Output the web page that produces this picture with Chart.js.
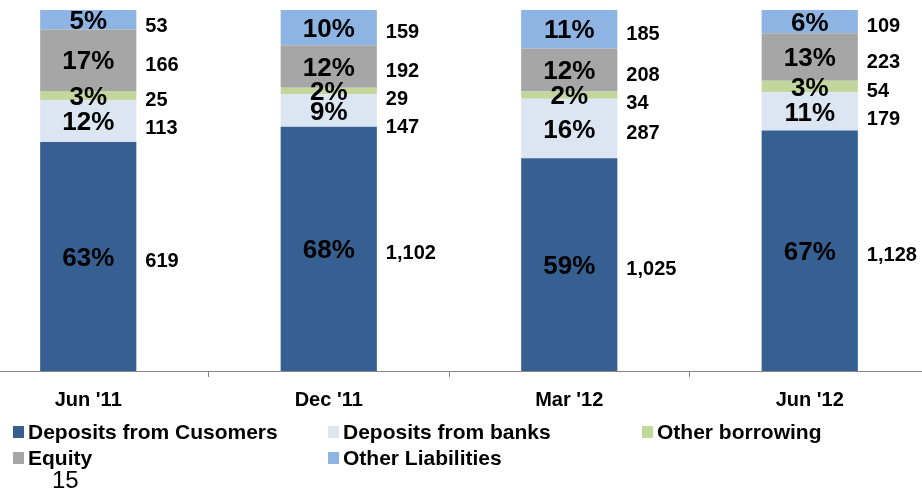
<!DOCTYPE html>
<html lang="en">
<head>
<meta charset="UTF-8">
<title>Liabilities structure</title>
<script src="https://cdn.jsdelivr.net/npm/chart.js"></script>
<style>
  body { margin: 0; width: 922px; height: 492px; overflow: hidden; background: #fff; position: relative;
         font-family: "Liberation Sans", Arial, sans-serif; color: #000; }
  #wrap { position: absolute; left: -32px; top: 0; width: 962px; height: 421px; }
  #legend { position: absolute; left: 13px; top: 421px; display: grid; grid-template-columns: 315px 314px auto;
            row-gap: 4px; font-weight: bold; font-size: 21px; }
  .item { display: flex; align-items: center; height: 22px; white-space: nowrap; }
  .box { width: 11px; height: 12px; margin-right: 4px; flex: none; }
  #page { position: absolute; left: 52px; top: 466px; font-size: 24px; }
</style>
</head>
<body>
<div id="wrap"><canvas id="chart"></canvas></div>
<div id="legend"></div>
<div id="page">15</div>

<script>
const FONT = '"Liberation Sans", Arial, sans-serif';

const categories = ["Jun '11", "Dec '11", "Mar '12", "Jun '12"];

// absolute amounts (shown right of each bar)
const depositsCustomers = [619, 1102, 1025, 1128];
const depositsBanks     = [113, 147, 287, 179];
const otherBorrowing    = [25, 29, 34, 54];
const equity            = [166, 192, 208, 223];
const otherLiabilities  = [53, 159, 185, 109];

// share labels as printed inside the bars
const pctCustomers = [63, 68, 59, 67];
const pctBanks     = [12, 9, 16, 11];
const pctBorrowing = [3, 2, 2, 3];
const pctEquity    = [17, 12, 12, 13];
const pctOther     = [5, 10, 11, 6];

const series = [
  { label: 'Deposits from Cusomers', values: depositsCustomers, pct: pctCustomers, color: '#376092' },
  { label: 'Deposits from banks',    values: depositsBanks,     pct: pctBanks,     color: '#DCE6F2' },
  { label: 'Other borrowing',        values: otherBorrowing,    pct: pctBorrowing, color: '#C3D69B' },
  { label: 'Equity',                 values: equity,            pct: pctEquity,    color: '#A6A6A6' },
  { label: 'Other Liabilities',      values: otherLiabilities,  pct: pctOther,     color: '#8EB4E3' }
];

// 100% stacked: each segment is its share of the column total
const totals = categories.map((c, i) => series.reduce((s, d) => s + d.values[i], 0));

const labelPlugin = {
  id: 'segLabels',
  afterDatasetsDraw(chart) {
    const ctx = chart.ctx;
    ctx.save();
    ctx.fillStyle = '#000';
    ctx.textBaseline = 'middle';
    categories.forEach((c, i) => {
      let prev = -Infinity;
      for (let k = series.length - 1; k >= 0; k--) {
        const bar = chart.getDatasetMeta(k).data[i];
        const mid = (bar.y + bar.base) / 2;
        ctx.font = 'bold 26px ' + FONT;
        ctx.textAlign = 'center';
        ctx.fillText(series[k].pct[i] + '%', bar.x, mid + 2);

        // keep the amounts from running into each other
        const y = Math.max(mid + 5, prev + 28, 26);
        prev = y;
        ctx.font = 'bold 20px ' + FONT;
        ctx.textAlign = 'left';
        ctx.fillText(series[k].values[i].toLocaleString('en-US'), bar.x + bar.width / 2 + 9, y);
      }
    });
    ctx.restore();
  }
};

const chart = new Chart(document.getElementById('chart'), {
  type: 'bar',
  data: {
    labels: categories,
    datasets: series.map(s => ({
      label: s.label,
      data: s.values.map((v, i) => v / totals[i] * 100),
      backgroundColor: s.color,
      borderWidth: 0,
      barPercentage: 0.4,
      categoryPercentage: 1
    }))
  },
  options: {
    responsive: true,
    maintainAspectRatio: false,
    animation: false,
    layout: { padding: { top: 10, left: 0, right: 0, bottom: 0 } },
    plugins: { legend: { display: false }, tooltip: { enabled: false } },
    scales: {
      x: {
        stacked: true,
        grid: { display: true, drawOnChartArea: false, offset: true, tickLength: 6, color: '#868686' },
        border: { color: '#868686', width: 1 },
        ticks: { color: '#000', padding: 11, font: { family: FONT, size: 20, weight: 'bold' } },
        afterFit(scale) { scale.height = 50; }
      },
      y: { stacked: true, display: false, min: 0, max: 100 }
    }
  },
  plugins: [labelPlugin]
});

// legend in three columns like the slide
const legend = document.getElementById('legend');
series.forEach(s => {
  const item = document.createElement('div');
  item.className = 'item';
  item.innerHTML = '<span class="box" style="background:' + s.color + '"></span>' + s.label;
  legend.appendChild(item);
});
</script>
</body>
</html>
